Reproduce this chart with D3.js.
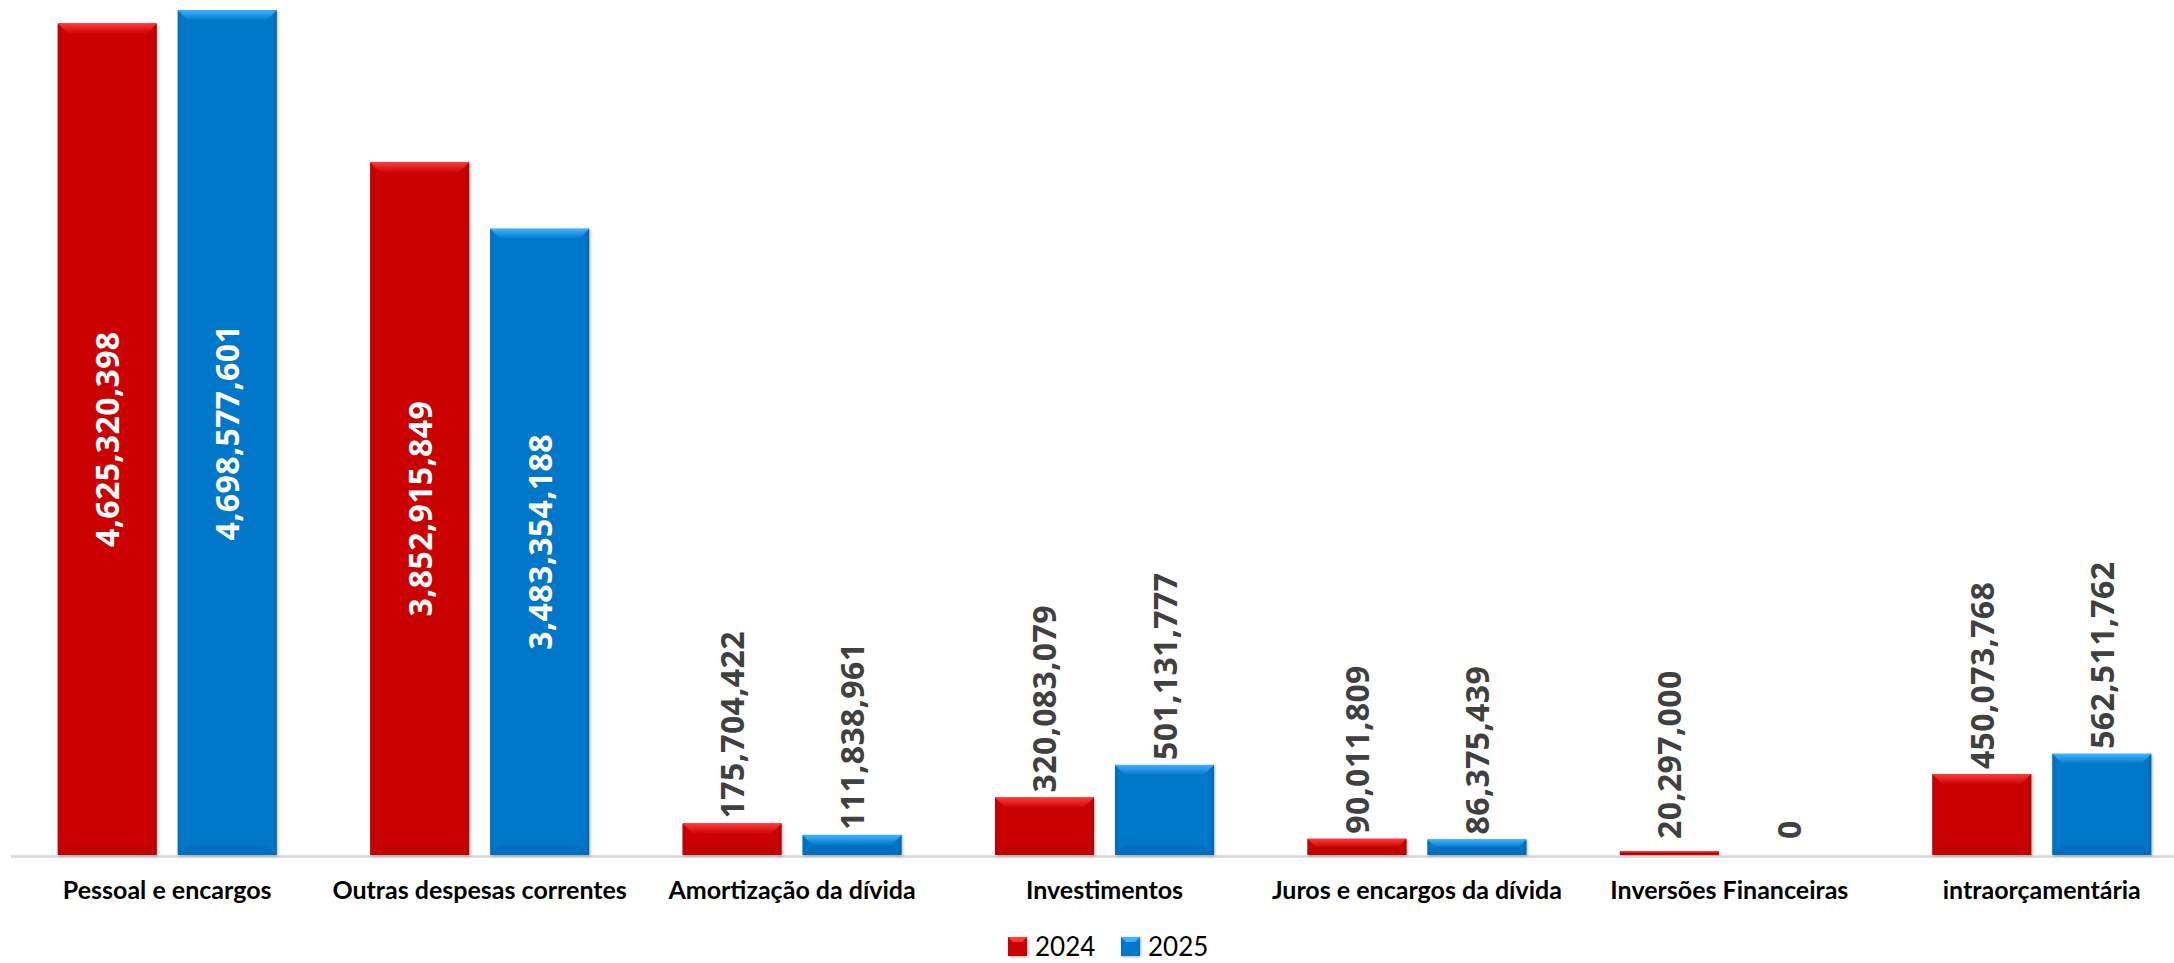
<!DOCTYPE html>
<html>
<head>
<meta charset="utf-8">
<script src="https://cdn.jsdelivr.net/npm/d3@7"></script>
<style>
  html, body { margin: 0; padding: 0; background: #ffffff; }
  svg { display: block; }
</style>
</head>
<body>
<svg id="chart" width="2174" height="963"></svg>
<script>
const categories = [
  "Pessoal e encargos",
  "Outras despesas correntes",
  "Amortização da dívida",
  "Investimentos",
  "Juros e encargos da dívida",
  "Inversões Financeiras",
  "intraorçamentária"
];
const seriesNames = ["2024", "2025"];
const values2024 = [4625320398, 3852915849, 175704422, 320083079, 90011809, 20297000, 450073768];
const values2025 = [4698577601, 3483354188, 111838961, 501131777, 86375439, 0, 562511762];

const W = 2174, H = 963;
const baseY = 855;
const svg = d3.select("#chart");

const palette = {
  "2024": { base: "#CB0606", light: "#FF3A3A", dark: "#8E0404" },
  "2025": { base: "#0677C9", light: "#3DB4FF", dark: "#04508A" }
};

const rows = categories.map((c, i) => ({ cat: c, vals: [
  { s: "2024", v: values2024[i] },
  { s: "2025", v: values2025[i] }
]}));

const x0 = d3.scaleBand().domain(categories).range([11, 2198]).padding(0);
const bw0 = x0.bandwidth();
const x1 = d3.scaleBand().domain(seriesNames)
  .range([bw0 * 0.1495, bw0 * 0.8505]).paddingInner(0.175);
const y = d3.scaleLinear().domain([0, 4.75e9]).range([baseY, 1]);

const defs = svg.append("defs");
seriesNames.forEach(s => {
  const p = palette[s];
  const gH = defs.append("linearGradient").attr("id", "side-" + s)
    .attr("x1", "0").attr("x2", "1").attr("y1", "0").attr("y2", "0");
  gH.append("stop").attr("offset", "0").attr("stop-color", p.dark).attr("stop-opacity", 0.35);
  gH.append("stop").attr("offset", "0.06").attr("stop-color", p.base).attr("stop-opacity", 0);
  gH.append("stop").attr("offset", "0.94").attr("stop-color", p.base).attr("stop-opacity", 0);
  gH.append("stop").attr("offset", "1").attr("stop-color", p.dark).attr("stop-opacity", 0.5);
  const gT = defs.append("linearGradient").attr("id", "top-" + s)
    .attr("x1", "0").attr("x2", "0").attr("y1", "0").attr("y2", "1");
  gT.append("stop").attr("offset", "0").attr("stop-color", p.light);
  gT.append("stop").attr("offset", "1").attr("stop-color", p.base);
});
const f = defs.append("filter").attr("id", "shadow")
  .attr("x", "-10%").attr("y", "-10%").attr("width", "130%").attr("height", "130%");
f.append("feDropShadow").attr("dx", 1).attr("dy", 1).attr("stdDeviation", 1.5)
  .attr("flood-color", "#000").attr("flood-opacity", 0.3);

// axis baseline
svg.append("line")
  .attr("x1", x0.range()[0]).attr("x2", W)
  .attr("y1", baseY + 1.5).attr("y2", baseY + 1.5)
  .attr("stroke", "#D6D6D6").attr("stroke-width", 2.5);

const groups = svg.selectAll("g.cat").data(rows).join("g")
  .attr("class", "cat")
  .attr("transform", d => `translate(${x0(d.cat)},0)`);

const bars = groups.selectAll("g.bar").data(d => d.vals).join("g").attr("class", "bar");

bars.each(function(d) {
  const g = d3.select(this);
  if (d.v <= 0) return;
  const bx = x1(d.s), bw = x1.bandwidth();
  const top = y(d.v), h = baseY - top;
  const b = Math.min(10, h / 2);
  const p = palette[d.s];
  g.append("rect").attr("x", bx).attr("y", top).attr("width", bw).attr("height", h)
    .attr("fill", p.base).attr("filter", "url(#shadow)");
  g.append("rect").attr("x", bx).attr("y", top).attr("width", bw).attr("height", h)
    .attr("fill", `url(#side-${d.s})`);
  g.append("path")
    .attr("d", `M${bx},${top}L${bx + bw},${top}L${bx + bw - b},${top + b}L${bx + b},${top + b}Z`)
    .attr("fill", `url(#top-${d.s})`);
  g.append("path")
    .attr("d", `M${bx},${baseY}L${bx + bw},${baseY}L${bx + bw - b},${baseY - b}L${bx + b},${baseY - b}Z`)
    .attr("fill", p.dark).attr("opacity", 0.18);
});

// value labels
const fmt = d3.format(",");
const labelFont = "'Open Sans', 'DejaVu Sans', sans-serif";
bars.append("text")
  .attr("transform", d => {
    const cx = x1(d.s) + x1.bandwidth() / 2 + 12;
    const h = baseY - y(d.v);
    const inside = h > 300;
    const ty = inside ? (y(d.v) + baseY) / 2 : Math.min(y(d.v) - 5, baseY - 16);
    return `translate(${cx},${ty}) rotate(-90)`;
  })
  .attr("text-anchor", d => (baseY - y(d.v) > 300) ? "middle" : "start")
  .attr("font-family", labelFont)
  .attr("font-weight", 700)
  .attr("font-size", 32)
  .attr("letter-spacing", 0.4)
  .attr("fill", d => (baseY - y(d.v) > 300) ? "#FFFFFF" : "#404040")
  .text(d => fmt(d.v));

// category labels
svg.append("g").selectAll("text").data(categories).join("text")
  .attr("x", d => x0(d) + bw0 / 2)
  .attr("y", 899)
  .attr("text-anchor", "middle")
  .attr("font-family", "Lato, 'Open Sans', sans-serif")
  .attr("font-weight", 700)
  .attr("font-size", 25)
  .attr("fill", "#000000")
  .text(d => d);

// legend
const legend = svg.append("g").attr("class", "legend");
const legendItems = [
  { s: "2024", x: 1008 },
  { s: "2025", x: 1121 }
];
legendItems.forEach(it => {
  const p = palette[it.s];
  const lg = legend.append("g");
  lg.append("rect").attr("x", it.x).attr("y", 937).attr("width", 19).attr("height", 19)
    .attr("fill", p.base).attr("filter", "url(#shadow)");
  lg.append("path")
    .attr("d", `M${it.x},937L${it.x + 19},937L${it.x + 14},942L${it.x + 5},942Z`)
    .attr("fill", p.light);
  lg.append("text").attr("x", it.x + 27).attr("y", 956)
    .attr("font-family", "Lato, 'Open Sans', sans-serif")
    .attr("font-size", 26).attr("fill", "#000000")
    .text(it.s);
});
</script>
</body>
</html>
